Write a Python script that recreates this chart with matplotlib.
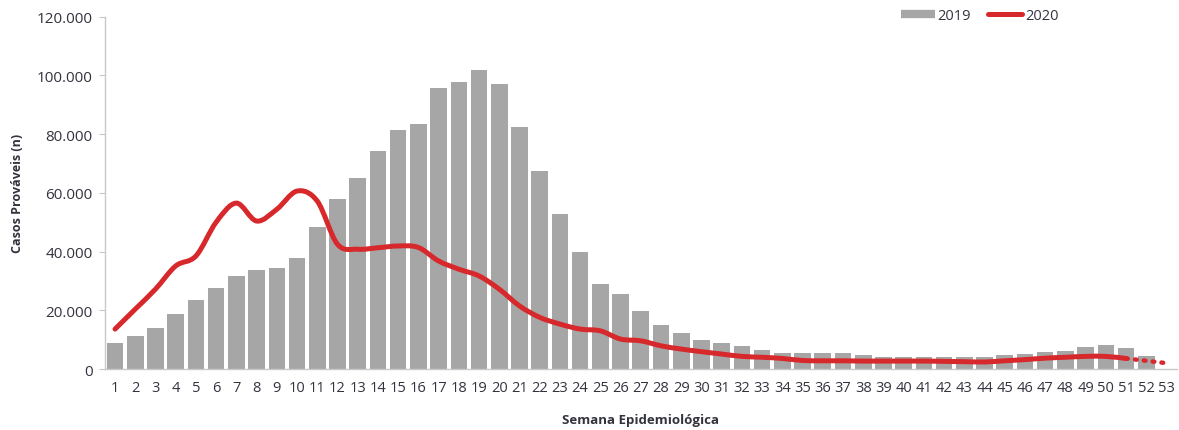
import numpy as np
import matplotlib
matplotlib.use('agg')
import matplotlib.pyplot as plt
import matplotlib.ticker as ticker
from matplotlib.path import Path
from matplotlib.patches import PathPatch
from matplotlib.lines import Line2D

plt.rcParams['font.family'] = ['Open Sans', 'DejaVu Sans']

#%% Data
weeks = list(range(1, 54))

cases_2019 = [9000, 11300, 14000, 18900, 23500, 27700, 31700, 33800, 34500, 37900,
              48500, 58000, 65200, 74100, 81300, 83600, 95600, 97700, 101800, 97200,
              82500, 67300, 52700, 39700, 29100, 25500, 19800, 15000, 12100, 10000,
              8900, 7700, 6400, 5400, 5300, 5300, 5300, 4800, 4200, 4200,
              4200, 4200, 4200, 4200, 4800, 5200, 5700, 6200, 7600, 8300,
              7300, 4300, 0]

cases_2020 = [13600, 20400, 27200, 35100, 38500, 50000, 56500, 50400, 54400, 60600,
              57200, 42500, 40800, 41300, 41900, 41400, 36800, 34000, 31700, 27200,
              21500, 17600, 15300, 13600, 13000, 10200, 9600, 7900, 6800, 5900,
              5100, 4300, 4000, 3600, 2900, 2800, 2800, 2700, 2700, 2700,
              2700, 2600, 2500, 2400, 2800, 3200, 3700, 4000, 4300, 4300,
              3600]
# provisional weeks (dotted)
prov_weeks = [51, 52, 53]
prov_2020 = [3600, 2800, 2000]

grey = '#A6A6A6'
red = '#D7282C'
txt = '#33333F'


def smooth_path(x, y):
    # Catmull-Rom -> cubic bezier, like Excel's smoothed lines
    x = np.asarray(x, float)
    y = np.asarray(y, float)
    verts = [(x[0], y[0])]
    codes = [Path.MOVETO]
    n = len(x)
    for i in range(n - 1):
        x0, y0 = (x[i - 1], y[i - 1]) if i > 0 else (x[i], y[i])
        x3, y3 = (x[i + 2], y[i + 2]) if i + 2 < n else (x[i + 1], y[i + 1])
        c1 = (x[i] + (x[i + 1] - x0) / 6, y[i] + (y[i + 1] - y0) / 6)
        c2 = (x[i + 1] - (x3 - x[i]) / 6, y[i + 1] - (y3 - y[i]) / 6)
        verts += [c1, c2, (x[i + 1], y[i + 1])]
        codes += [Path.CURVE4] * 3
    return Path(verts, codes)


fig = plt.figure(figsize=(11.79, 4.31), dpi=100)
ax = fig.add_axes([0.089, 0.1415, 0.909, 0.8175])

ax.bar(weeks, cases_2019, width=0.82, color=grey, zorder=1)

path = smooth_path(weeks[:len(cases_2020)], cases_2020)
ax.add_patch(PathPatch(path, facecolor='none', edgecolor=red, lw=3.6,
                       capstyle='round', joinstyle='round', zorder=3))
ax.add_patch(PathPatch(smooth_path(prov_weeks, prov_2020), facecolor='none',
                       edgecolor=red, lw=3.2, linestyle=(0, (0.4, 1.6)),
                       capstyle='round', zorder=3))

ax.set_xlim(0.5, 53.5)
ax.set_ylim(0, 120000)
ax.set_yticks(np.arange(0, 120001, 20000))
ax.yaxis.set_major_formatter(ticker.FuncFormatter(
    lambda v, pos: f"{int(v):,}".replace(',', '.')))
ax.set_xticks(weeks)
ax.set_xticklabels([str(w) for w in weeks])

for s in ['top', 'right']:
    ax.spines[s].set_visible(False)
for s in ['left', 'bottom']:
    ax.spines[s].set_color('#C8C8C8')
    ax.spines[s].set_linewidth(1.0)

ax.tick_params(axis='y', length=4, color='#C8C8C8', labelsize=11,
               labelcolor=txt, pad=5)
ax.tick_params(axis='x', length=0, labelsize=10.5, labelcolor=txt, pad=8)

ax.set_ylabel('Casos Prováveis (n)', fontsize=9, fontweight='bold', color=txt,
              labelpad=9)
ax.set_xlabel('Semana Epidemiológica', fontsize=9.5, fontweight='bold',
              color=txt, labelpad=13)

handles = [Line2D([], [], color=grey, lw=6, solid_capstyle='butt'),
           Line2D([], [], color=red, lw=3.6, solid_capstyle='round')]
fig.legend(handles, ['2019', '2020'], loc='center', bbox_to_anchor=(0.831, 0.962),
           ncol=2, frameon=False, fontsize=10.5, handlelength=2.3,
           handletextpad=0.2, columnspacing=1.2, labelcolor=txt)

fig.savefig('out.png', dpi=100)
